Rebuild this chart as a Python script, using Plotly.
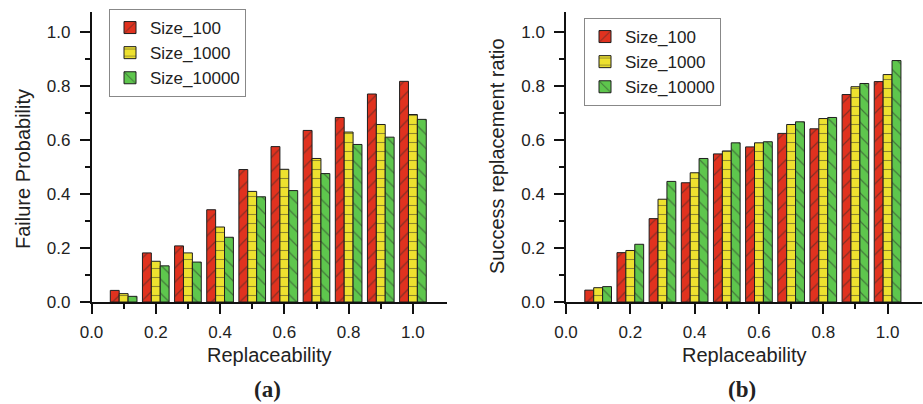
import plotly.graph_objects as go

# ---- data ----
replaceability = [0.1, 0.2, 0.3, 0.4, 0.5, 0.6, 0.7, 0.8, 0.9, 1.0]
series_names = ["Size_100", "Size_1000", "Size_10000"]

failure_100 = [0.043, 0.182, 0.208, 0.342, 0.491, 0.576, 0.636, 0.684, 0.771, 0.818]
failure_1000 = [0.031, 0.151, 0.182, 0.278, 0.410, 0.492, 0.532, 0.630, 0.658, 0.695]
failure_10000 = [0.021, 0.134, 0.148, 0.240, 0.390, 0.413, 0.476, 0.584, 0.611, 0.677]

success_100 = [0.044, 0.183, 0.309, 0.442, 0.549, 0.575, 0.625, 0.642, 0.769, 0.817]
success_1000 = [0.053, 0.191, 0.381, 0.479, 0.560, 0.590, 0.658, 0.680, 0.798, 0.843]
success_10000 = [0.057, 0.214, 0.447, 0.532, 0.590, 0.594, 0.668, 0.684, 0.810, 0.895]

major_ticks = [0.0, 0.2, 0.4, 0.6, 0.8, 1.0]
minor_ticks = [0.1, 0.3, 0.5, 0.7, 0.9]
tick_text = ["0.0", "0.2", "0.4", "0.6", "0.8", "1.0"]

colors = ["#E0321F", "#EEE12F", "#5EC64D"]
shapes = ["/", "-", "\\"]

SANS = "Liberation Sans, Arial, sans-serif"
SERIF = "Liberation Serif, Times New Roman, serif"
W, H = 923, 404

fig = go.Figure()

panels = [
    ("x", "y", "legend", [failure_100, failure_1000, failure_10000]),
    ("x2", "y2", "legend2", [success_100, success_1000, success_10000]),
]
for xa, ya, lg, vals in panels:
    for name, v, c, sh in zip(series_names, vals, colors, shapes):
        fig.add_trace(go.Bar(
            x=replaceability, y=v, name=name, xaxis=xa, yaxis=ya, legend=lg,
            marker=dict(color=c, line=dict(color="#1e1e1e", width=1),
                        pattern=dict(shape=sh, size=10 if sh != "-" else 9,
                                     solidity=0.12, fgcolor="#2a2a2a")),
        ))

def px_x(p):
    return p / W

def px_y(p):
    return 1 - p / H

yd = [px_y(302), px_y(12)]
axis_common = dict(
    showline=True, linecolor="#111", linewidth=1.5, mirror=False,
    ticks="outside", ticklen=10, tickwidth=1.5, tickcolor="#111",
    tickfont=dict(family=SANS, size=17, color="#222"),
    showgrid=False, zeroline=False, automargin=False,
    tickvals=major_ticks, ticktext=tick_text,
    minor=dict(tickvals=minor_ticks, ticks="outside", ticklen=5,
               tickwidth=1.5, tickcolor="#111", showgrid=False),
)

fig.update_layout(
    width=W, height=H, margin=dict(l=0, r=0, t=0, b=0),
    paper_bgcolor="white", plot_bgcolor="white",
    barmode="group", bargap=0.17, bargroupgap=0,
    xaxis=dict(domain=[px_x(91.5), px_x(447)], range=[0, 1.106], anchor="y",
               ticklabelstandoff=4, **axis_common),
    yaxis=dict(domain=yd, range=[0, 1.075], anchor="x",
               ticklabelstandoff=6, **axis_common),
    xaxis2=dict(domain=[px_x(566), px_x(922)], range=[0, 1.107], anchor="y2",
                ticklabelstandoff=4, **axis_common),
    yaxis2=dict(domain=yd, range=[0, 1.075], anchor="x2",
                ticklabelstandoff=6, **axis_common),
    legend=dict(x=px_x(109), y=px_y(9), xanchor="left", yanchor="top",
                bgcolor="white", bordercolor="#888", borderwidth=1,
                font=dict(family=SANS, size=17, color="#222"), tracegroupgap=0),
    legend2=dict(x=px_x(584), y=px_y(18), xanchor="left", yanchor="top",
                 bgcolor="white", bordercolor="#888", borderwidth=1,
                 font=dict(family=SANS, size=17, color="#222"), tracegroupgap=0),
    font=dict(family=SANS, color="#222"),
)

annots = [
    dict(text="Replaceability", x=px_x(269), y=px_y(355), size=20, family=SANS, angle=0),
    dict(text="Replaceability", x=px_x(744), y=px_y(355), size=20, family=SANS, angle=0),
    dict(text="Failure Probability", x=px_x(23), y=px_y(169), size=20, family=SANS, angle=-90),
    dict(text="Success replacement ratio", x=px_x(497), y=px_y(156), size=20, family=SANS, angle=-90),
    dict(text="<b>(a)</b>", x=px_x(267), y=px_y(389), size=23, family=SERIF, angle=0),
    dict(text="<b>(b)</b>", x=px_x(742), y=px_y(389), size=23, family=SERIF, angle=0),
]
for a in annots:
    fig.add_annotation(text=a["text"], x=a["x"], y=a["y"], xref="paper", yref="paper",
                       xanchor="center", yanchor="middle", showarrow=False,
                       textangle=a["angle"],
                       font=dict(family=a["family"], size=a["size"], color="#222"))

fig.write_html("out.html")
